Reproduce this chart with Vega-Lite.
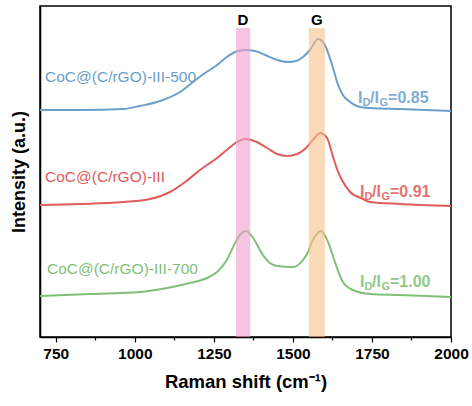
{
  "$schema": "https://vega.github.io/schema/vega-lite/v6.json",
  "width": 411,
  "height": 331,
  "autosize": {"type": "none"},
  "padding": {"left": 40, "top": 6, "right": 21, "bottom": 69},
  "background": "white",
  "config": {
    "view": {"stroke": "black", "strokeWidth": 1.5},
    "font": "Liberation Sans"
  },
  "datasets": {
    "curves": [
      {"s": "500", "x": 700, "y": 227}, {"s": "500", "x": 827, "y": 227}, {"s": "500", "x": 963, "y": 228}, {"s": "500", "x": 1016, "y": 231}, {"s": "500", "x": 1080, "y": 236}, {"s": "500", "x": 1143, "y": 245}, {"s": "500", "x": 1184, "y": 255}, {"s": "500", "x": 1222, "y": 264}, {"s": "500", "x": 1260, "y": 272}, {"s": "500", "x": 1291, "y": 280}, {"s": "500", "x": 1317, "y": 285}, {"s": "500", "x": 1348, "y": 287}, {"s": "500", "x": 1380, "y": 286}, {"s": "500", "x": 1412, "y": 282}, {"s": "500", "x": 1450, "y": 277}, {"s": "500", "x": 1484, "y": 275}, {"s": "500", "x": 1510, "y": 276}, {"s": "500", "x": 1532, "y": 280}, {"s": "500", "x": 1554, "y": 287}, {"s": "500", "x": 1579, "y": 298}, {"s": "500", "x": 1601, "y": 292}, {"s": "500", "x": 1624, "y": 272}, {"s": "500", "x": 1643, "y": 252}, {"s": "500", "x": 1658, "y": 242}, {"s": "500", "x": 1681, "y": 235}, {"s": "500", "x": 1712, "y": 230}, {"s": "500", "x": 1744, "y": 229}, {"s": "500", "x": 1839, "y": 228}, {"s": "500", "x": 2000, "y": 226},
      {"s": "III", "x": 700, "y": 132}, {"s": "III", "x": 827, "y": 133}, {"s": "III", "x": 963, "y": 135}, {"s": "III", "x": 1048, "y": 138}, {"s": "III", "x": 1111, "y": 145}, {"s": "III", "x": 1159, "y": 155}, {"s": "III", "x": 1206, "y": 167}, {"s": "III", "x": 1260, "y": 179}, {"s": "III", "x": 1291, "y": 187}, {"s": "III", "x": 1323, "y": 195}, {"s": "III", "x": 1348, "y": 198}, {"s": "III", "x": 1386, "y": 195}, {"s": "III", "x": 1418, "y": 189}, {"s": "III", "x": 1450, "y": 183}, {"s": "III", "x": 1481, "y": 181}, {"s": "III", "x": 1513, "y": 183}, {"s": "III", "x": 1538, "y": 188}, {"s": "III", "x": 1563, "y": 197}, {"s": "III", "x": 1586, "y": 204}, {"s": "III", "x": 1608, "y": 199}, {"s": "III", "x": 1627, "y": 180}, {"s": "III", "x": 1643, "y": 165}, {"s": "III", "x": 1655, "y": 157}, {"s": "III", "x": 1681, "y": 145}, {"s": "III", "x": 1722, "y": 138}, {"s": "III", "x": 1744, "y": 135}, {"s": "III", "x": 1839, "y": 133}, {"s": "III", "x": 2000, "y": 131},
      {"s": "700", "x": 700, "y": 41}, {"s": "700", "x": 858, "y": 43}, {"s": "700", "x": 1016, "y": 45}, {"s": "700", "x": 1102, "y": 49}, {"s": "700", "x": 1174, "y": 54}, {"s": "700", "x": 1228, "y": 59}, {"s": "700", "x": 1260, "y": 65}, {"s": "700", "x": 1291, "y": 77}, {"s": "700", "x": 1317, "y": 94}, {"s": "700", "x": 1332, "y": 102}, {"s": "700", "x": 1352, "y": 106}, {"s": "700", "x": 1374, "y": 99}, {"s": "700", "x": 1405, "y": 82}, {"s": "700", "x": 1427, "y": 74}, {"s": "700", "x": 1450, "y": 71}, {"s": "700", "x": 1500, "y": 70}, {"s": "700", "x": 1532, "y": 77}, {"s": "700", "x": 1548, "y": 85}, {"s": "700", "x": 1560, "y": 95}, {"s": "700", "x": 1576, "y": 103}, {"s": "700", "x": 1589, "y": 106}, {"s": "700", "x": 1611, "y": 95}, {"s": "700", "x": 1633, "y": 75}, {"s": "700", "x": 1658, "y": 55}, {"s": "700", "x": 1690, "y": 47}, {"s": "700", "x": 1744, "y": 43}, {"s": "700", "x": 1839, "y": 42}, {"s": "700", "x": 2000, "y": 40}
    ],
    "bands": [
      {"band": "D", "x1": 1320, "x2": 1365, "ylo": 0, "yhi": 309, "ly": 317, "lx": 1342},
      {"band": "G", "x1": 1550, "x2": 1601, "ylo": 0, "yhi": 309, "ly": 317, "lx": 1576}
    ],
    "labels": [
      {"s": "500", "name": "CoC@(C/rGO)-III-500", "x": 716, "y": 260},
      {"s": "III", "name": "CoC@(C/rGO)-III", "x": 716, "y": 160},
      {"s": "700", "name": "CoC@(C/rGO)-III-700", "x": 722, "y": 68}
    ],
    "ratios": [
      {"s": "500", "ratio": "=0.85", "x": 1706, "y": 239},
      {"s": "III", "ratio": "=0.91", "x": 1712, "y": 145},
      {"s": "700", "ratio": "=1.00", "x": 1712, "y": 55}
    ]
  },
  "layer": [
    {
      "data": {"name": "curves"},
      "mark": {"type": "line", "strokeWidth": 2, "interpolate": "monotone"},
      "encoding": {
        "x": {
          "field": "x", "type": "quantitative",
          "scale": {"domain": [700, 2000], "nice": false, "zero": false},
          "axis": {
            "title": "Raman shift (cm⁻¹)",
            "values": [750, 875, 1000, 1125, 1250, 1375, 1500, 1625, 1750, 1875, 2000],
            "format": "d",
            "labelExpr": "datum.value % 250 == 0 ? datum.label : ''",
            "tickSize": {"condition": {"test": "datum.value % 250 == 0", "value": 5}, "value": 3},
            "tickColor": "black", "tickWidth": 1.2,
            "domainColor": "black", "domainWidth": 1.5,
            "grid": false,
            "labelFont": "Liberation Sans", "labelFontWeight": "bold", "labelFontSize": 15.5, "labelColor": "black",
            "labelPadding": 4, "labelFlush": false, "labelOverlap": false,
            "titleFont": "Liberation Sans", "titleFontWeight": "bold", "titleFontSize": 18.5, "titleColor": "black",
            "titlePadding": 11
          }
        },
        "y": {
          "field": "y", "type": "quantitative",
          "scale": {"domain": [0, 331], "nice": false},
          "axis": {
            "title": "Intensity (a.u.)",
            "labels": false, "ticks": false, "grid": false,
            "domainColor": "black", "domainWidth": 1.5,
            "titleFont": "Liberation Sans", "titleFontWeight": "bold", "titleFontSize": 18, "titleColor": "black",
            "titlePadding": 12
          }
        },
        "color": {
          "field": "s", "type": "nominal",
          "scale": {"domain": ["500", "III", "700"], "range": ["#6a9fcc", "#e05c5c", "#80bf78"]},
          "legend": null
        },
        "detail": {"field": "s"}
      }
    },
    {
      "data": {"name": "bands"},
      "mark": {"type": "rect", "opacity": 0.6},
      "encoding": {
        "x": {"field": "x1", "type": "quantitative"},
        "x2": {"field": "x2"},
        "y": {"field": "ylo", "type": "quantitative"},
        "y2": {"field": "yhi"},
        "fill": {
          "field": "band", "type": "nominal",
          "scale": {"domain": ["D", "G"], "range": ["#f29fcf", "#f8c28b"]},
          "legend": null
        }
      }
    },
    {
      "data": {"name": "bands"},
      "mark": {"type": "text", "font": "Liberation Sans", "fontWeight": "bold", "fontSize": 15, "color": "black", "align": "center", "baseline": "middle"},
      "encoding": {
        "x": {"field": "lx", "type": "quantitative"},
        "y": {"field": "ly", "type": "quantitative"},
        "text": {"field": "band"}
      }
    },
    {
      "data": {"name": "labels"},
      "mark": {"type": "text", "font": "Liberation Sans", "fontSize": 15.5, "align": "left", "baseline": "middle"},
      "encoding": {
        "x": {"field": "x", "type": "quantitative"},
        "y": {"field": "y", "type": "quantitative"},
        "text": {"field": "name"},
        "color": {"field": "s", "type": "nominal", "scale": {"domain": ["500", "III", "700"], "range": ["#6a9fcc", "#e05c5c", "#80bf78"]}, "legend": null}
      }
    },
    {
      "data": {"name": "ratios"},
      "mark": {"type": "text", "font": "Liberation Sans", "fontWeight": "bold", "fontSize": 16, "align": "left", "baseline": "middle", "dx": 0, "opacity": 0.85},
      "encoding": {
        "x": {"field": "x", "type": "quantitative"},
        "y": {"field": "y", "type": "quantitative"},
        "text": {"value": "I"},
        "color": {"field": "s", "type": "nominal", "scale": {"domain": ["500", "III", "700"], "range": ["#6a9fcc", "#e05c5c", "#80bf78"]}, "legend": null}
      }
    },
    {
      "data": {"name": "ratios"},
      "mark": {"type": "text", "font": "Liberation Sans", "fontWeight": "bold", "fontSize": 11, "align": "left", "baseline": "middle", "dx": 4.5, "dy": 5, "opacity": 0.85},
      "encoding": {
        "x": {"field": "x", "type": "quantitative"},
        "y": {"field": "y", "type": "quantitative"},
        "text": {"value": "D"},
        "color": {"field": "s", "type": "nominal", "scale": {"domain": ["500", "III", "700"], "range": ["#6a9fcc", "#e05c5c", "#80bf78"]}, "legend": null}
      }
    },
    {
      "data": {"name": "ratios"},
      "mark": {"type": "text", "font": "Liberation Sans", "fontWeight": "bold", "fontSize": 16, "align": "left", "baseline": "middle", "dx": 12, "opacity": 0.85},
      "encoding": {
        "x": {"field": "x", "type": "quantitative"},
        "y": {"field": "y", "type": "quantitative"},
        "text": {"value": "/I"},
        "color": {"field": "s", "type": "nominal", "scale": {"domain": ["500", "III", "700"], "range": ["#6a9fcc", "#e05c5c", "#80bf78"]}, "legend": null}
      }
    },
    {
      "data": {"name": "ratios"},
      "mark": {"type": "text", "font": "Liberation Sans", "fontWeight": "bold", "fontSize": 11, "align": "left", "baseline": "middle", "dx": 21.5, "dy": 5, "opacity": 0.85},
      "encoding": {
        "x": {"field": "x", "type": "quantitative"},
        "y": {"field": "y", "type": "quantitative"},
        "text": {"value": "G"},
        "color": {"field": "s", "type": "nominal", "scale": {"domain": ["500", "III", "700"], "range": ["#6a9fcc", "#e05c5c", "#80bf78"]}, "legend": null}
      }
    },
    {
      "data": {"name": "ratios"},
      "mark": {"type": "text", "font": "Liberation Sans", "fontWeight": "bold", "fontSize": 16, "align": "left", "baseline": "middle", "dx": 30, "opacity": 0.85},
      "encoding": {
        "x": {"field": "x", "type": "quantitative"},
        "y": {"field": "y", "type": "quantitative"},
        "text": {"field": "ratio"},
        "color": {"field": "s", "type": "nominal", "scale": {"domain": ["500", "III", "700"], "range": ["#6a9fcc", "#e05c5c", "#80bf78"]}, "legend": null}
      }
    }
  ]
}
